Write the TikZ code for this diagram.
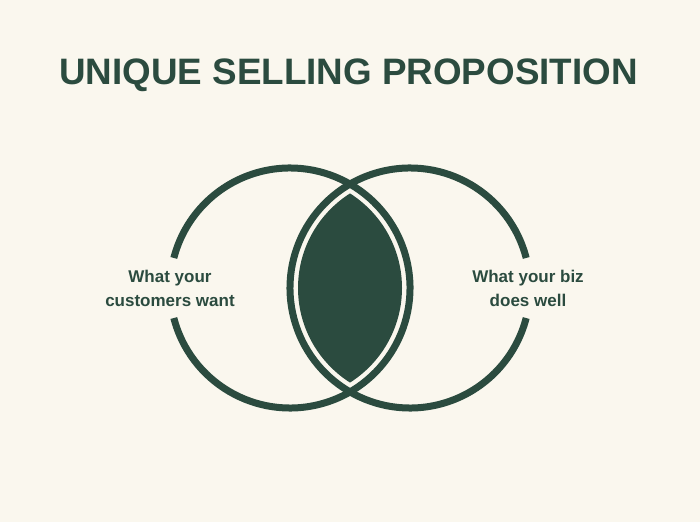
\documentclass[tikz,border=0pt]{standalone}
\usepackage{fontspec}
\setmainfont{Liberation Sans}

\definecolor{uspgreen}{HTML}{2B4B3F}
\definecolor{uspcream}{HTML}{FAF7EE}

\tikzset{
  venntext/.style={text=uspgreen, font=\fontsize{17}{24}\selectfont\bfseries, align=center},
  ring/.style={draw=uspgreen, line width=7pt}
}

\begin{document}
\begin{tikzpicture}[x=1pt,y=1pt]
        % Background and bounding box
        \fill[uspcream] (0,0) rectangle (700,522);
        \useasboundingbox (0,0) rectangle (700,522);

        % Title
        \node[text=uspgreen, font=\fontsize{36.8}{40}\selectfont\bfseries] (title) at (348.5,447) {UNIQUE SELLING PROPOSITION};

        % Filled lens between the two circles
        \begin{scope}
            \clip (290,234) circle (112);
            \fill[uspgreen] (410,234) circle (112);
        \end{scope}

        % Left circle, open on the left for its label
        \draw[ring] (290,234) ++(194.5:120) arc (194.5:525.5:120);
        \node[venntext] (want) at (170,234) {What your\\customers want};

        % Right circle, open on the right for its label
        \draw[ring] (410,234) ++(14.5:120) arc (14.5:345.5:120);
        \node[venntext] (well) at (528,234) {What your biz\\does well};
    \end{tikzpicture}
\end{document}
